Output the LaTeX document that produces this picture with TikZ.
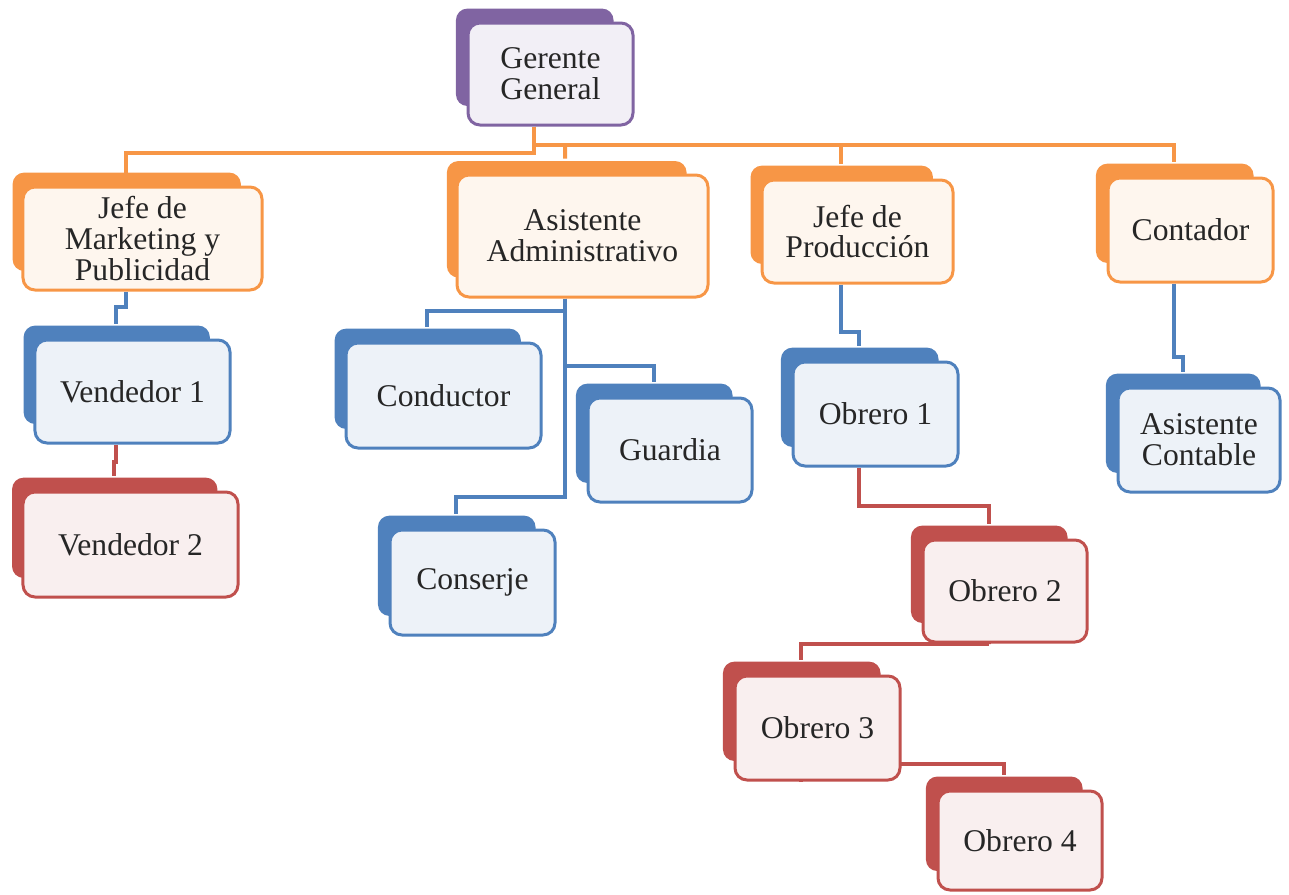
\documentclass[tikz,border=0pt]{standalone}
\usepackage{fontspec}
\setmainfont{Liberation Serif}
\usepackage{xcolor}
\usepackage{tikz}
\usetikzlibrary{shadows,backgrounds}

\definecolor{ggorange}{HTML}{F79646}
\definecolor{ggpurple}{HTML}{8064A2}
\definecolor{ggblue}{HTML}{4F81BD}
\definecolor{ggred}{HTML}{C0504D}

\begin{document}
\begin{tikzpicture}[
  x=0.2mm, y=-0.2mm,
  box/.style={draw, rounded corners=2.4mm, line width=0.6mm, align=center,
              inner sep=0.5mm, text=black!85,
              font=\fontsize{18}{17.5}\selectfont},
  back/.style={general shadow={fill=#1, shadow xshift=-3.3mm,
               shadow yshift=3.5mm, shadow scale=.955}},
  purplebox/.style={box, draw=ggpurple, fill=ggpurple!10, back=ggpurple},
  orangebox/.style={box, draw=ggorange, fill=ggorange!9, back=ggorange},
  bluebox/.style={box, draw=ggblue, fill=ggblue!10, back=ggblue},
  redbox/.style={box, draw=ggred, fill=ggred!9, back=ggred},
  orline/.style={draw=ggorange, line width=0.8mm},
  blline/.style={draw=ggblue, line width=0.8mm},
  rdline/.style={draw=ggred, line width=0.8mm}
]
\useasboundingbox (0,0) rectangle (1289,894);

% top
\node[purplebox, minimum width=33mm, minimum height=20.4mm] (ger) at (550.5,74) {Gerente\\General};

% second level
\node[orangebox, minimum width=47.8mm, minimum height=20.6mm] (mkt) at (142.5,238.5) {Jefe de\\Marketing y\\Publicidad};
\node[orangebox, minimum width=50.2mm, minimum height=24.4mm] (adm) at (582.5,236) {Asistente\\Administrativo};
\node[orangebox, minimum width=38.2mm, minimum height=20.6mm] (prod) at (857.5,231.5) {Jefe de\\Producción};
\node[orangebox, minimum width=33mm, minimum height=20.8mm] (cont) at (1190.5,230) {Contador};

% staff
\node[bluebox, minimum width=39mm, minimum height=20.6mm] (ven1) at (132.5,391.5) {Vendedor 1};
\node[redbox, minimum width=43mm, minimum height=21mm] (ven2) at (130.5,544.5) {Vendedor 2};
\node[bluebox, minimum width=39mm, minimum height=21mm] (cond) at (443.5,395.5) {Conductor};
\node[bluebox, minimum width=32.8mm, minimum height=20.8mm] (guard) at (670,450) {Guardia};
\node[bluebox, minimum width=33mm, minimum height=21mm] (cons) at (472.5,582.5) {Conserje};
\node[bluebox, minimum width=33mm, minimum height=20.8mm] (ob1) at (875.5,414) {Obrero 1};
\node[bluebox, minimum width=32.4mm, minimum height=20.8mm] (acont) at (1199,440) {Asistente\\Contable};
\node[redbox, minimum width=32.8mm, minimum height=20.4mm] (ob2) at (1005,591) {Obrero 2};
\node[redbox, minimum width=33mm, minimum height=20.8mm] (ob3) at (817.5,728) {Obrero 3};
\node[redbox, minimum width=32.8mm, minimum height=19.8mm] (ob4) at (1020,840.5) {Obrero 4};

\coordinate (split) at (565,145);

\begin{scope}[on background layer]
% from Gerente General
\draw[orline] ([xshift=-3.4mm]ger.south) |- ([xshift=-3.4mm,yshift=6.6mm]mkt.north) -- ([xshift=-3.4mm,yshift=2.6mm]mkt.north);
\draw[orline] ([xshift=-3.4mm]ger.south) |- (split);
\draw[orline] (split) -- ([xshift=-3.5mm,yshift=3mm]adm.north);
\draw[orline] (split) -| ([xshift=-3.3mm,yshift=3mm]prod.north);
\draw[orline] (split) -| ([xshift=-3.3mm,yshift=3mm]cont.north);

% second level down
\draw[blline] ([xshift=-3.4mm]mkt.south) -- ++(0,15) -| ([xshift=-3.3mm,yshift=3mm]ven1.north);
\draw[rdline] ([xshift=-3.3mm]ven1.south) -- ++(0,17) -| ([xshift=-3.3mm,yshift=3mm]ven2.north);
\draw[blline] ([xshift=-3.5mm]adm.south) |- ([xshift=-3.3mm,yshift=6.2mm]cond.north) -- ([xshift=-3.3mm,yshift=3mm]cond.north);
\draw[blline] ([xshift=-3.5mm]adm.south) |- ([xshift=-3.3mm,yshift=6.2mm]guard.north) -- ([xshift=-3.3mm,yshift=3mm]guard.north);
\draw[blline] ([xshift=-3.5mm]adm.south) |- ([xshift=-3.3mm,yshift=6.4mm]cons.north) -- ([xshift=-3.3mm,yshift=3mm]cons.north);
\draw[blline] ([xshift=-3.3mm]prod.south) -- ++(0,47) -| ([xshift=-3.3mm,yshift=3mm]ob1.north);
\draw[blline] ([xshift=-3.3mm]cont.south) -- ++(0,73) -| ([xshift=-3.3mm,yshift=3mm]acont.north);

% obreros
\draw[rdline] ([xshift=-3.3mm]ob1.south) |- ([xshift=-3.3mm,yshift=6.6mm]ob2.north) -- ([xshift=-3.3mm,yshift=3mm]ob2.north);
\draw[rdline] ([xshift=-3.3mm]ob2.south) |- ([xshift=-3.3mm,yshift=6.2mm]ob3.north) -- ([xshift=-3.3mm,yshift=3mm]ob3.north);
\draw[rdline] ([xshift=-3.3mm]ob3.south) |- ([xshift=-3.3mm,yshift=5.2mm]ob4.north) -- ([xshift=-3.3mm,yshift=3mm]ob4.north);
\end{scope}
\end{tikzpicture}
\end{document}
